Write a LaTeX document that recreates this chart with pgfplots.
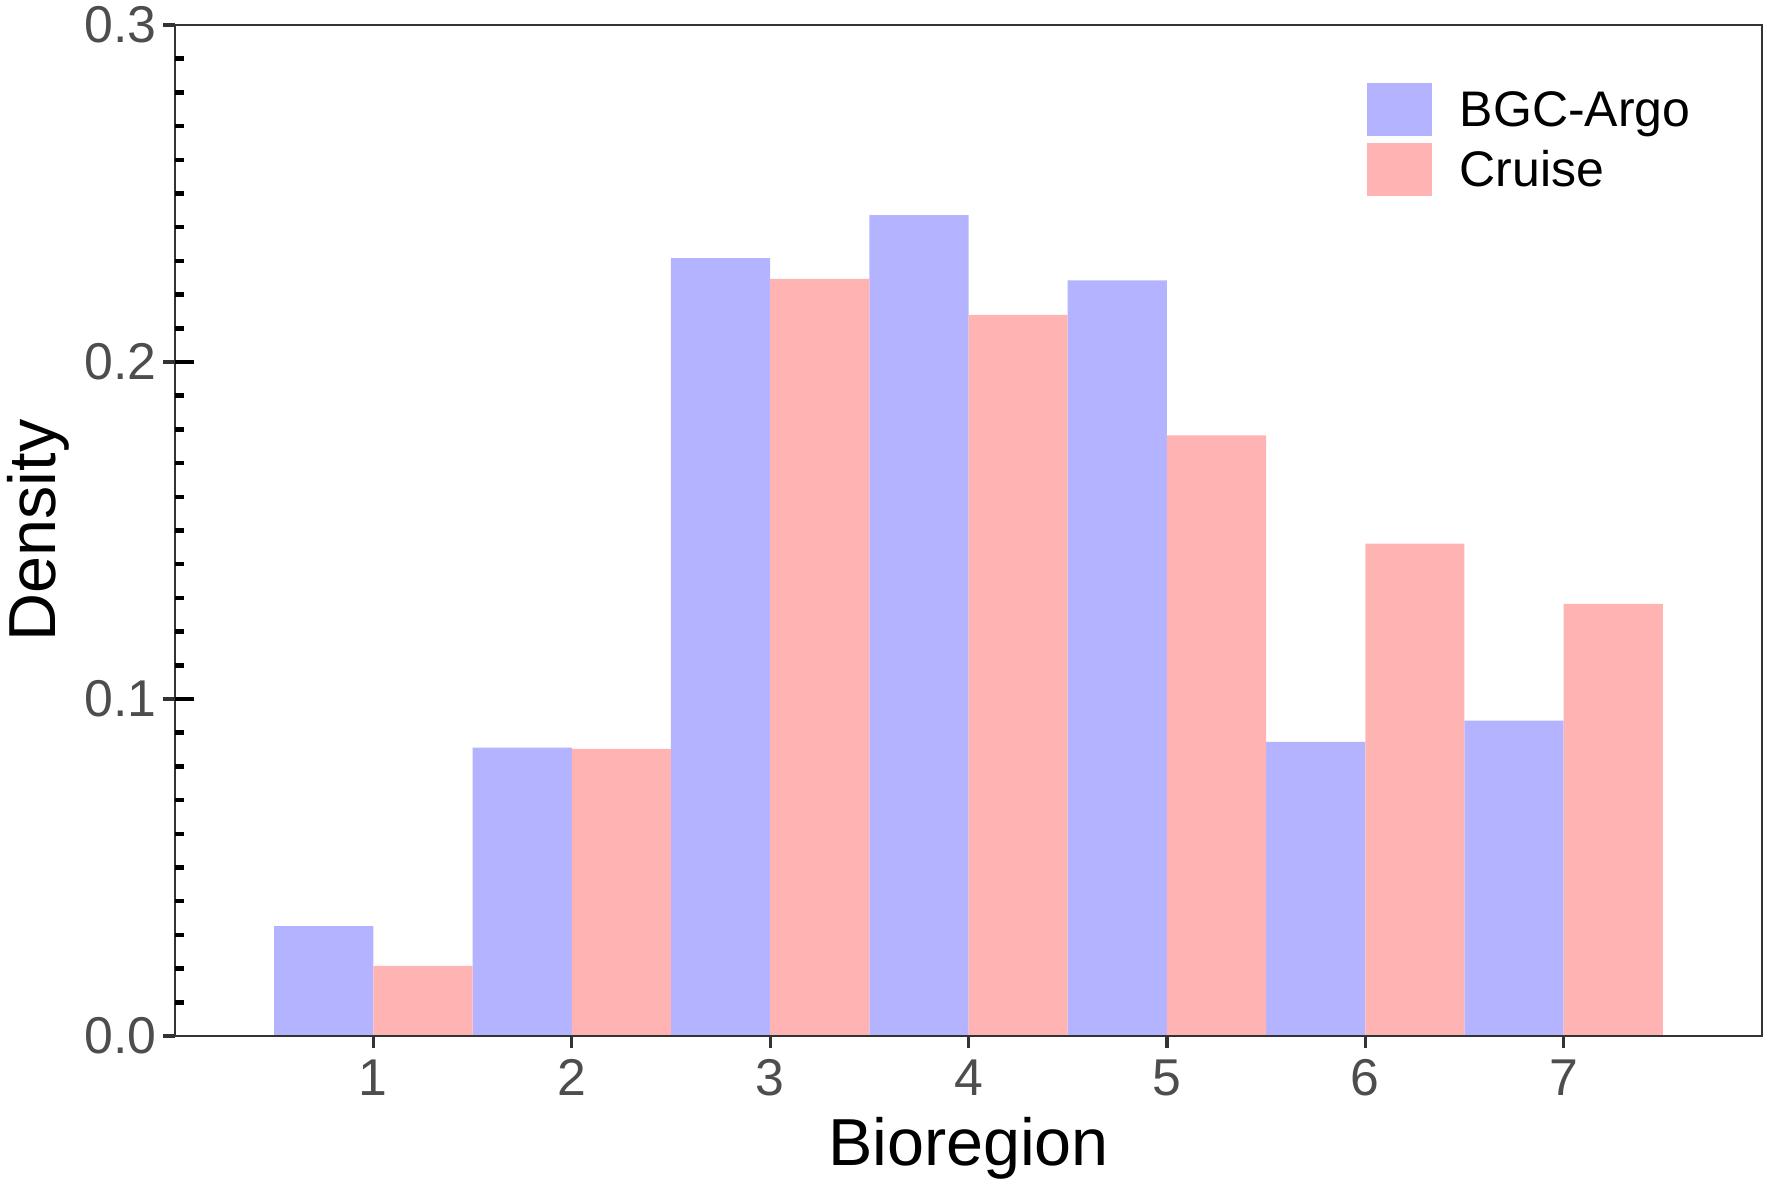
\documentclass[border=0pt]{standalone}
\usepackage{pgfplots}
\pgfplotsset{compat=1.18}
\usepackage{fontspec}
\setmainfont{Liberation Sans}
\definecolor{argo}{RGB}{179,179,255}
\definecolor{cruise}{RGB}{255,179,179}
\definecolor{gtwenty}{RGB}{51,51,51}
\definecolor{gthirty}{RGB}{77,77,77}
\pgfplotstableread{
x y
1 0.0326
2 0.0856
3 0.2308
4 0.2436
5 0.2242
6 0.0873
7 0.0936
}\argodata
\pgfplotstableread{
x y
1 0.0208
2 0.0852
3 0.2247
4 0.2140
5 0.1782
6 0.1461
7 0.1282
}\cruisedata
\begin{document}
\begin{tikzpicture}
\begin{axis}[
 name=main,
 width=634.8pt, height=404.4pt, scale only axis,
 xmin=0, xmax=8, ymin=0, ymax=0.3,
 axis on top,
 axis line style={gtwenty, line width=0.8pt},
 xtick={1,2,3,4,5,6,7},
 ytick={0,0.1,0.2,0.3}, yticklabels={0.0,0.1,0.2,0.3},
 xtick pos=bottom, ytick pos=left,
 tick align=outside,
 major tick length=4.8pt,
 major tick style={gtwenty, line width=1.3pt},
 minor tick num=0,
 /pgf/number format/assume math mode=true,
 ticklabel style={font=\fontsize{20.7}{24}\selectfont, text=gthirty},
 yticklabel style={anchor=east, inner sep=0pt, xshift=-2.4pt},
 xticklabel style={anchor=north, inner sep=0pt, yshift=-4.4pt},
 xlabel={Bioregion}, ylabel={Density},
 label style={font=\fontsize{26.6}{32}\selectfont, text=black},
 xlabel style={at={(axis description cs:0.5,-0.1276)}, anchor=base},
 ylabel style={at={(axis description cs:-0.0756,0.5)}, anchor=base},
 legend style={at={(rel axis cs:0.751,0.9436)}, anchor=north west,
   draw=none, fill=none, inner sep=0pt,
   font=\fontsize{20}{24}\selectfont,
   row sep=2.8pt,
   nodes={inner sep=0pt, text height=14.3pt, text depth=0pt},
   /tikz/every odd column/.append style={column sep=11pt}},
 legend cell align=left,
 legend image code/.code={\fill[#1] (0pt,-10.6pt) rectangle (26pt,10.6pt);},
]
\addplot[ybar, bar width=0.5, bar shift=-0.25, fill=argo, draw=none] table[x=x,y=y] {\argodata};
\addlegendentry{BGC-Argo}
\addplot[ybar, bar width=0.5, bar shift=0.25, fill=cruise, draw=none] table[x=x,y=y] {\cruisedata};
\addlegendentry{Cruise}
\end{axis}
\begin{axis}[
 width=634.8pt, height=404.4pt, scale only axis,
 xmin=0, xmax=8, ymin=0, ymax=0.3,
 hide x axis,
 axis y line*=left,
 y axis line style={draw=none},
 ytick={0.1,0.2}, yticklabels={},
 minor ytick={0.01,0.02,0.03,0.04,0.05,0.06,0.07,0.08,0.09,0.11,0.12,0.13,0.14,0.15,0.16,0.17,0.18,0.19,0.21,0.22,0.23,0.24,0.25,0.26,0.27,0.28,0.29},
 tick align=inside,
 major tick length=7.6pt,
 minor tick length=3.6pt,
 major tick style={black, line width=1.8pt},
 minor tick style={black, line width=1.8pt},
]
\addplot[draw=none] coordinates {(0,0)};
\end{axis}
\pgfresetboundingbox
\path[use as bounding box] ([xshift=-70pt,yshift=-61.6pt]main.south west) rectangle ([xshift=4.8pt,yshift=10pt]main.north east);
\end{tikzpicture}
\end{document}
